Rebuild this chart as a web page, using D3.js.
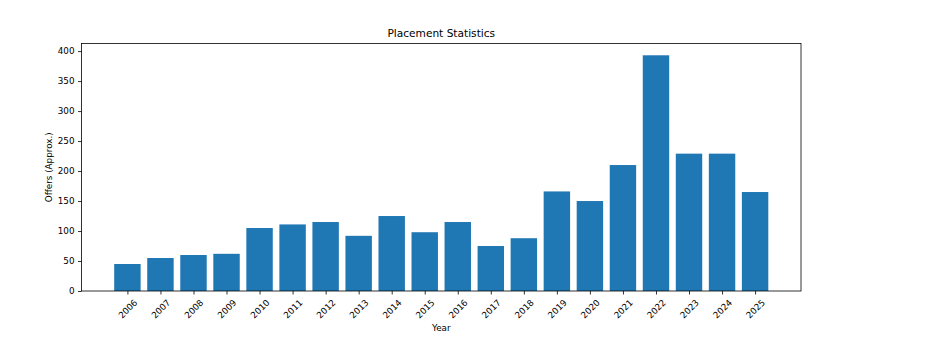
<!DOCTYPE html>
<html>
<head>
<meta charset="utf-8">
<script src="https://cdn.jsdelivr.net/npm/d3@7"></script>
<style>
  html, body { margin: 0; padding: 0; background: #fff; }
  svg { display: block; font-family: "DejaVu Sans", sans-serif; }
</style>
</head>
<body>
<svg id="chart" width="925" height="339"></svg>
<script>
// Placement offers per year
const years = ["2006","2007","2008","2009","2010","2011","2012","2013","2014","2015",
               "2016","2017","2018","2019","2020","2021","2022","2023","2024","2025"];
const offers = [45, 55, 60, 62, 105, 111, 115, 92, 125, 98,
                115, 75, 88, 166, 150, 210, 393, 229, 229, 165];
const yTicks = [0, 50, 100, 150, 200, 250, 300, 350, 400];

const svg = d3.select("#chart");
const margin = { left: 81.5, right: 124, top: 43.5, bottom: 48 };
const W = 925, H = 339;
const x0 = margin.left, x1 = W - margin.right;
const y0 = H - margin.bottom, y1 = margin.top;

// Bar positions follow a linear index axis with 5% margins, like matplotlib
const n = years.length;
const barW = 0.8;
const span = (n - 1 + barW);
const pad = span * 0.05;
const x = d3.scaleLinear()
  .domain([-barW / 2 - pad, n - 1 + barW / 2 + pad])
  .range([x0, x1]);

const yMax = d3.max(offers) * 1.05;
const y = d3.scaleLinear().domain([0, yMax]).range([y0, y1]);

// Bars
svg.append("g")
  .selectAll("rect")
  .data(offers)
  .join("rect")
  .attr("x", (d, i) => x(i - barW / 2))
  .attr("width", (d, i) => x(i + barW / 2) - x(i - barW / 2))
  .attr("y", d => y(d))
  .attr("height", d => y(0) - y(d))
  .attr("fill", "#1f77b4");

// Frame
svg.append("rect")
  .attr("x", x0).attr("y", y1)
  .attr("width", x1 - x0).attr("height", y0 - y1)
  .attr("fill", "none").attr("stroke", "#000").attr("stroke-width", 0.8);

// Y axis
const yAxis = d3.axisLeft(y).tickValues(yTicks).tickSize(3.5).tickPadding(3.5);
const gy = svg.append("g").attr("transform", `translate(${x0},0)`).call(yAxis);
gy.select(".domain").remove();
gy.selectAll("line").attr("stroke", "#000").attr("stroke-width", 0.8);
gy.selectAll("text").attr("font-size", 8.8).attr("fill", "#000")
  .attr("font-family", "DejaVu Sans");

// X axis with rotated year labels
const xAxis = d3.axisBottom(x).tickValues(d3.range(n)).tickSize(3.5).tickFormat(i => years[i]);
const gx = svg.append("g").attr("transform", `translate(0,${y0})`).call(xAxis);
gx.select(".domain").remove();
gx.selectAll("line").attr("stroke", "#000").attr("stroke-width", 0.8);
gx.selectAll("text")
  .attr("font-size", 8.8).attr("fill", "#000").attr("font-family", "DejaVu Sans")
  .attr("y", 0).attr("dy", null)
  .attr("text-anchor", "middle")
  .attr("dominant-baseline", "central")
  .attr("transform", "translate(0,18) rotate(-45)");

// Titles
svg.append("text")
  .attr("x", (x0 + x1) / 2).attr("y", 37)
  .attr("text-anchor", "middle")
  .attr("font-size", 10.6).attr("fill", "#000")
  .text("Placement Statistics");

svg.append("text")
  .attr("x", (x0 + x1) / 2).attr("y", 331)
  .attr("text-anchor", "middle")
  .attr("font-size", 8.8).attr("fill", "#000")
  .text("Year");

svg.append("text")
  .attr("transform", `translate(52,${(y0 + y1) / 2}) rotate(-90)`)
  .attr("text-anchor", "middle")
  .attr("font-size", 8.8).attr("fill", "#000")
  .text("Offers (Approx.)");
</script>
</body>
</html>
